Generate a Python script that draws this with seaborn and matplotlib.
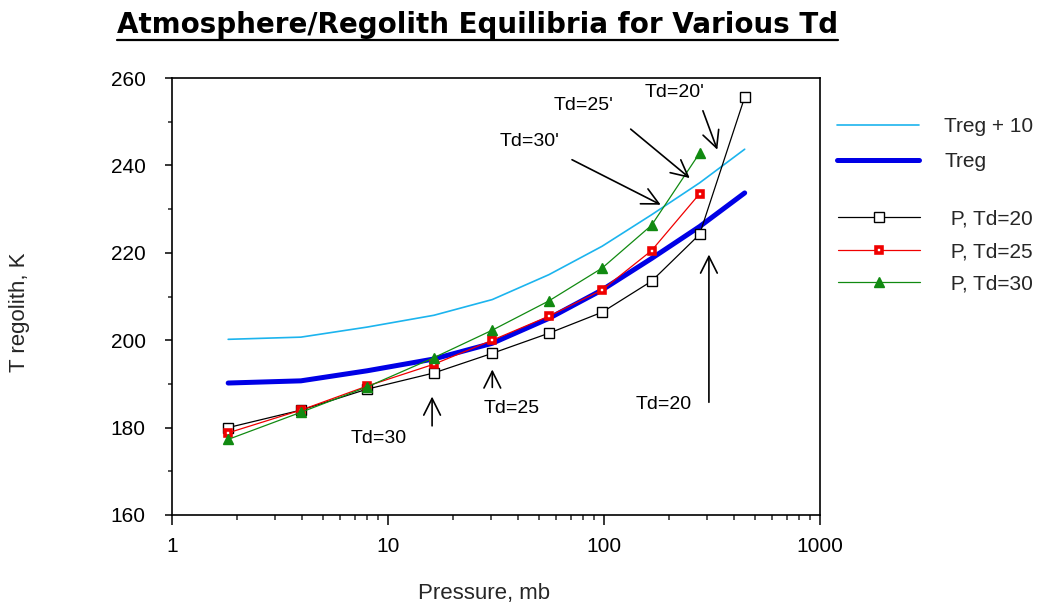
import matplotlib
matplotlib.use("Agg")
import matplotlib.pyplot as plt
import seaborn as sns
import numpy as np
from matplotlib.ticker import LogLocator, MultipleLocator, FuncFormatter, NullFormatter
from matplotlib.lines import Line2D

# ---------------- data ----------------
pressure = [1.82, 3.95, 8.0, 16.3, 30.4, 55.6, 98, 166, 277, 448]
treg = [190.2, 190.7, 193.0, 195.7, 199.3, 205.0, 211.5, 218.7, 226.0, 233.7]
treg_plus10 = [200.2, 200.7, 203.0, 205.7, 209.3, 215.0, 221.5, 228.7, 236.0, 243.7]
p_td20 = [180.0, 184.0, 188.8, 192.5, 197.0, 201.6, 206.4, 213.5, 224.2, 255.6]
p_td25 = [178.8, 184.0, 189.5, 194.5, 200.0, 205.5, 211.5, 220.5, 233.5]
p_td30 = [177.3, 183.5, 189.3, 196.0, 202.3, 209.0, 216.5, 226.3, 242.8]

x_ticks = [1, 10, 100, 1000]
y_ticks = [160, 180, 200, 220, 240, 260]

# annotations: (text, text position, arrow tail, arrow head)
ann_texts = ["Td=30'", "Td=25'", "Td=20'", "Td=20", "Td=25", "Td=30"]
ann_text_pos = [(45, 245.4), (80.8, 253.6), (213, 256.6), (189.6, 185.3), (37.5, 184.4), (9.1, 177.4)]
ann_tail = [(71.1, 241.3), (132.9, 248.3), (287, 252.5), (306, 185.8), (30.4, 189.2), (16.0, 180.4)]
ann_head = [(183, 231.0), (249.4, 237.1), (334.6, 243.6), (306, 219.6), (30.4, 193.3), (16.0, 187.1)]

title = "Atmosphere/Regolith Equilibria for Various Td"

# ---------------- styling ----------------
sns.set_style("ticks")
plt.rcParams['font.family'] = ['Liberation Sans', 'DejaVu Sans']

W, H = 1051, 608
fig = plt.figure(figsize=(W / 100, H / 100), dpi=100)
ax = fig.add_axes([172 / W, (H - 515) / H, 648 / W, 437 / H])

c_cyan = '#1CB4EE'
c_blue = '#0000E6'
c_red = '#F00000'
c_green = '#118A11'

sns.lineplot(x=pressure, y=treg, ax=ax, color=c_blue, lw=3.6, label='Treg', sort=False)
sns.lineplot(x=pressure, y=treg_plus10, ax=ax, color=c_cyan, lw=1.2, label='Treg + 10', sort=False)
sns.lineplot(x=pressure, y=p_td20, ax=ax, color='black', lw=0.9, marker='s', markersize=6.5,
             markerfacecolor='white', markeredgecolor='black', markeredgewidth=1.0,
             label='P, Td=20', sort=False)
sns.lineplot(x=pressure[:len(p_td25)], y=p_td25, ax=ax, color=c_red, lw=0.9, marker='s', markersize=4,
             markerfacecolor='white', markeredgecolor=c_red, markeredgewidth=2.6,
             label='P, Td=25', sort=False)
sns.lineplot(x=pressure[:len(p_td30)], y=p_td30, ax=ax, color=c_green, lw=0.9, marker='^', markersize=7.5,
             markerfacecolor=c_green, markeredgecolor=c_green, markeredgewidth=1.0,
             label='P, Td=30', sort=False)

ax.set_xscale('log')
ax.set_xlim(1, 1000)
ax.set_ylim(160, 260)
ax.set_xticks(x_ticks)
ax.xaxis.set_major_formatter(FuncFormatter(lambda v, p: '%g' % v))
ax.xaxis.set_minor_locator(LogLocator(base=10, subs=np.arange(2, 10)))
ax.xaxis.set_minor_formatter(NullFormatter())
ax.set_yticks(y_ticks)
ax.yaxis.set_minor_locator(MultipleLocator(10))

for s in ax.spines.values():
    s.set_visible(True)
    s.set_color('black')
    s.set_linewidth(1.2)

ax.tick_params(axis='y', which='major', direction='out', length=5, width=1.1, pad=14, labelsize=15, colors='black')
ax.tick_params(axis='y', which='minor', direction='out', length=3, width=1.1)
ax.tick_params(axis='x', which='major', direction='out', length=7, width=1.1, pad=9, labelsize=15, colors='black')
ax.tick_params(axis='x', which='minor', direction='out', length=3.5, width=1.1)
ax.grid(False)

ax.set_xlabel('Pressure, mb', fontsize=16)
ax.set_ylabel('T regolith, K', fontsize=16)
ax.xaxis.label.set_va('center')
ax.yaxis.label.set_va('center')
ax.xaxis.set_label_coords((484 - 172) / 648, (515 - 594) / 437)
ax.yaxis.set_label_coords((20 - 172) / 648, (515 - 312) / 437)

# annotations
for t, tp, tail, head in zip(ann_texts, ann_text_pos, ann_tail, ann_head):
    ax.annotate('', xy=head, xytext=tail,
                arrowprops=dict(arrowstyle='->,head_length=0.6,head_width=0.3', color='black',
                                lw=1.2, shrinkA=0, shrinkB=0, mutation_scale=20))
    ax.text(tp[0], tp[1], t, fontsize=14, ha='center', va='center', color='black')

# legends
handles, labels = ax.get_legend_handles_labels()
hl = dict(zip(labels, handles))
if ax.legend_ is not None:
    ax.legend_.remove()
leg1 = fig.legend([hl['Treg + 10'], hl['Treg']], ['Treg + 10', 'Treg'],
                  loc='center left', bbox_to_anchor=(837 / W, 1 - 144 / H),
                  frameon=False, handlelength=3.95, handletextpad=1.2, labelspacing=0.75,
                  fontsize=15, borderpad=0, borderaxespad=0)
leg2 = fig.legend([hl['P, Td=20'], hl['P, Td=25'], hl['P, Td=30']],
                  [' P, Td=20', ' P, Td=25', ' P, Td=30'],
                  loc='center left', bbox_to_anchor=(838 / W, 1 - 251.5 / H),
                  frameon=False, handlelength=3.95, handletextpad=1.2, labelspacing=0.65,
                  fontsize=15, borderpad=0, borderaxespad=0)

# title, fitted to the reference width, underlined
ttl = fig.text(477.5 / W, 1 - 33 / H, title, fontsize=20, fontweight='bold',
               family=['DejaVu Sans'], ha='center', va='baseline', color='black')
fig.canvas.draw()
r = fig.canvas.get_renderer()
bb = ttl.get_window_extent(renderer=r)
ttl.set_fontsize(20 * 721 / bb.width)
fig.canvas.draw()
bb = ttl.get_window_extent(renderer=r)
fig.add_artist(Line2D([bb.x0 / W, bb.x1 / W], [1 - 39.5 / H, 1 - 39.5 / H],
                      transform=fig.transFigure, color='black', lw=1.6))

fig.savefig('out.png', dpi=100)
